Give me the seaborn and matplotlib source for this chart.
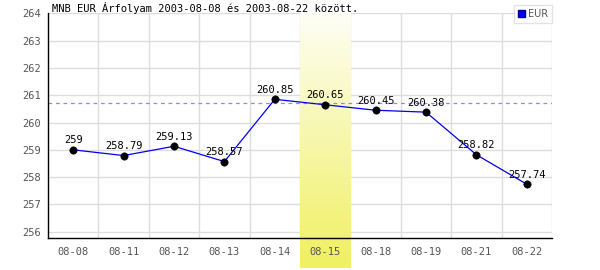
import numpy as np
import pandas as pd
import matplotlib
matplotlib.use("Agg")
import matplotlib.pyplot as plt
import seaborn as sns
from matplotlib.colors import LinearSegmentedColormap
from matplotlib.patches import Rectangle

dates = ["08-08", "08-11", "08-12", "08-13", "08-14", "08-15", "08-18", "08-19", "08-21", "08-22"]
values = [259.0, 258.79, 259.13, 258.57, 260.85, 260.65, 260.45, 260.38, 258.82, 257.74]
labels = ["259", "258.79", "259.13", "258.57", "260.85", "260.65", "260.45", "260.38", "258.82", "257.74"]
ref_value = 260.70
highlight = "08-15"
title = "MNB EUR Árfolyam 2003-08-08 és 2003-08-22 között."

sns.set_style("white")
plt.rcParams['font.family'] = ['DejaVu Sans Mono', 'DejaVu Sans']

fig = plt.figure(figsize=(6, 2.7), dpi=100)
ax = fig.add_axes([48/600, 1-238.3/270, 504/600, (238.3-13.3)/270])
ax.set_axisbelow(False)

df = pd.DataFrame({"x": np.arange(len(dates)) + 0.5, "y": values})
ymin, ymax = 255.76, 264.0
ax.set_xlim(0, len(dates))
ax.set_ylim(ymin, ymax)

# grid
for xv in range(1, len(dates) + 1):
    ax.axvline(xv, color="#dddddd", lw=1, zorder=1)
for yv in range(256, 265):
    ax.axhline(yv, color="#dddddd", lw=1, zorder=1)

# highlight band with gradient (light at top, yellow at bottom)
hi = dates.index(highlight)
cmap = LinearSegmentedColormap.from_list("yl", ["#fefef6", "#f0f060"])
grad = np.linspace(0, 1, 256).reshape(-1, 1)
ext_bottom = ymin - (268 - 238.3) / 27.2
ax.imshow(grad, aspect="auto", cmap=cmap, extent=[hi, hi + 1, ext_bottom, ymax],
          origin="upper", zorder=1.5, clip_on=False)
ax.set_xlim(0, len(dates))
ax.set_ylim(ymin, ymax)

ax.axhline(ref_value, color="#8888ff", lw=0.9, ls=(0, (3, 3)), zorder=2)

sns.lineplot(data=df, x="x", y="y", ax=ax, color="#0000ee", lw=0.9, zorder=3)
sns.scatterplot(data=df, x="x", y="y", ax=ax, color="black", s=28, edgecolor="black", zorder=4)

for xv, yv, lab in zip(df["x"], df["y"], labels):
    ax.text(xv, yv + 0.17, lab, ha="center", va="bottom", fontsize=7.5, color="black", zorder=5)

ax.set_xticks(df["x"])
ax.set_xticklabels(dates)
ax.set_yticks(range(256, 265))
ax.tick_params(axis="both", length=0, labelsize=7.5, labelcolor="#555555")
ax.tick_params(axis="x", pad=6)
ax.tick_params(axis="y", pad=5)
ax.set_xlabel("")
ax.set_ylabel("")

for s in ["top", "right"]:
    ax.spines[s].set_visible(False)
for s in ["left", "bottom"]:
    ax.spines[s].set_color("black")
    ax.spines[s].set_linewidth(1)
    ax.spines[s].set_zorder(6)

fig.text(52/600, 1-12/270, title, fontsize=7.5, color="black", ha="left", va="baseline")

handle = Rectangle((0, 0), 1, 1, facecolor="#0000ff", edgecolor="#000088")
leg = fig.legend([handle], ["EUR"], loc="upper right", bbox_to_anchor=(552/600, 1-5/270),
                 fontsize=7, frameon=True, fancybox=False, edgecolor="#dddddd",
                 handlelength=0.7, handleheight=0.7, handletextpad=0.3, borderpad=0.4,
                 borderaxespad=0)
leg.get_frame().set_linewidth(1)
for t in leg.get_texts():
    t.set_color("#555555")
    t.set_family("DejaVu Sans")

fig.savefig("out.png", dpi=100)
